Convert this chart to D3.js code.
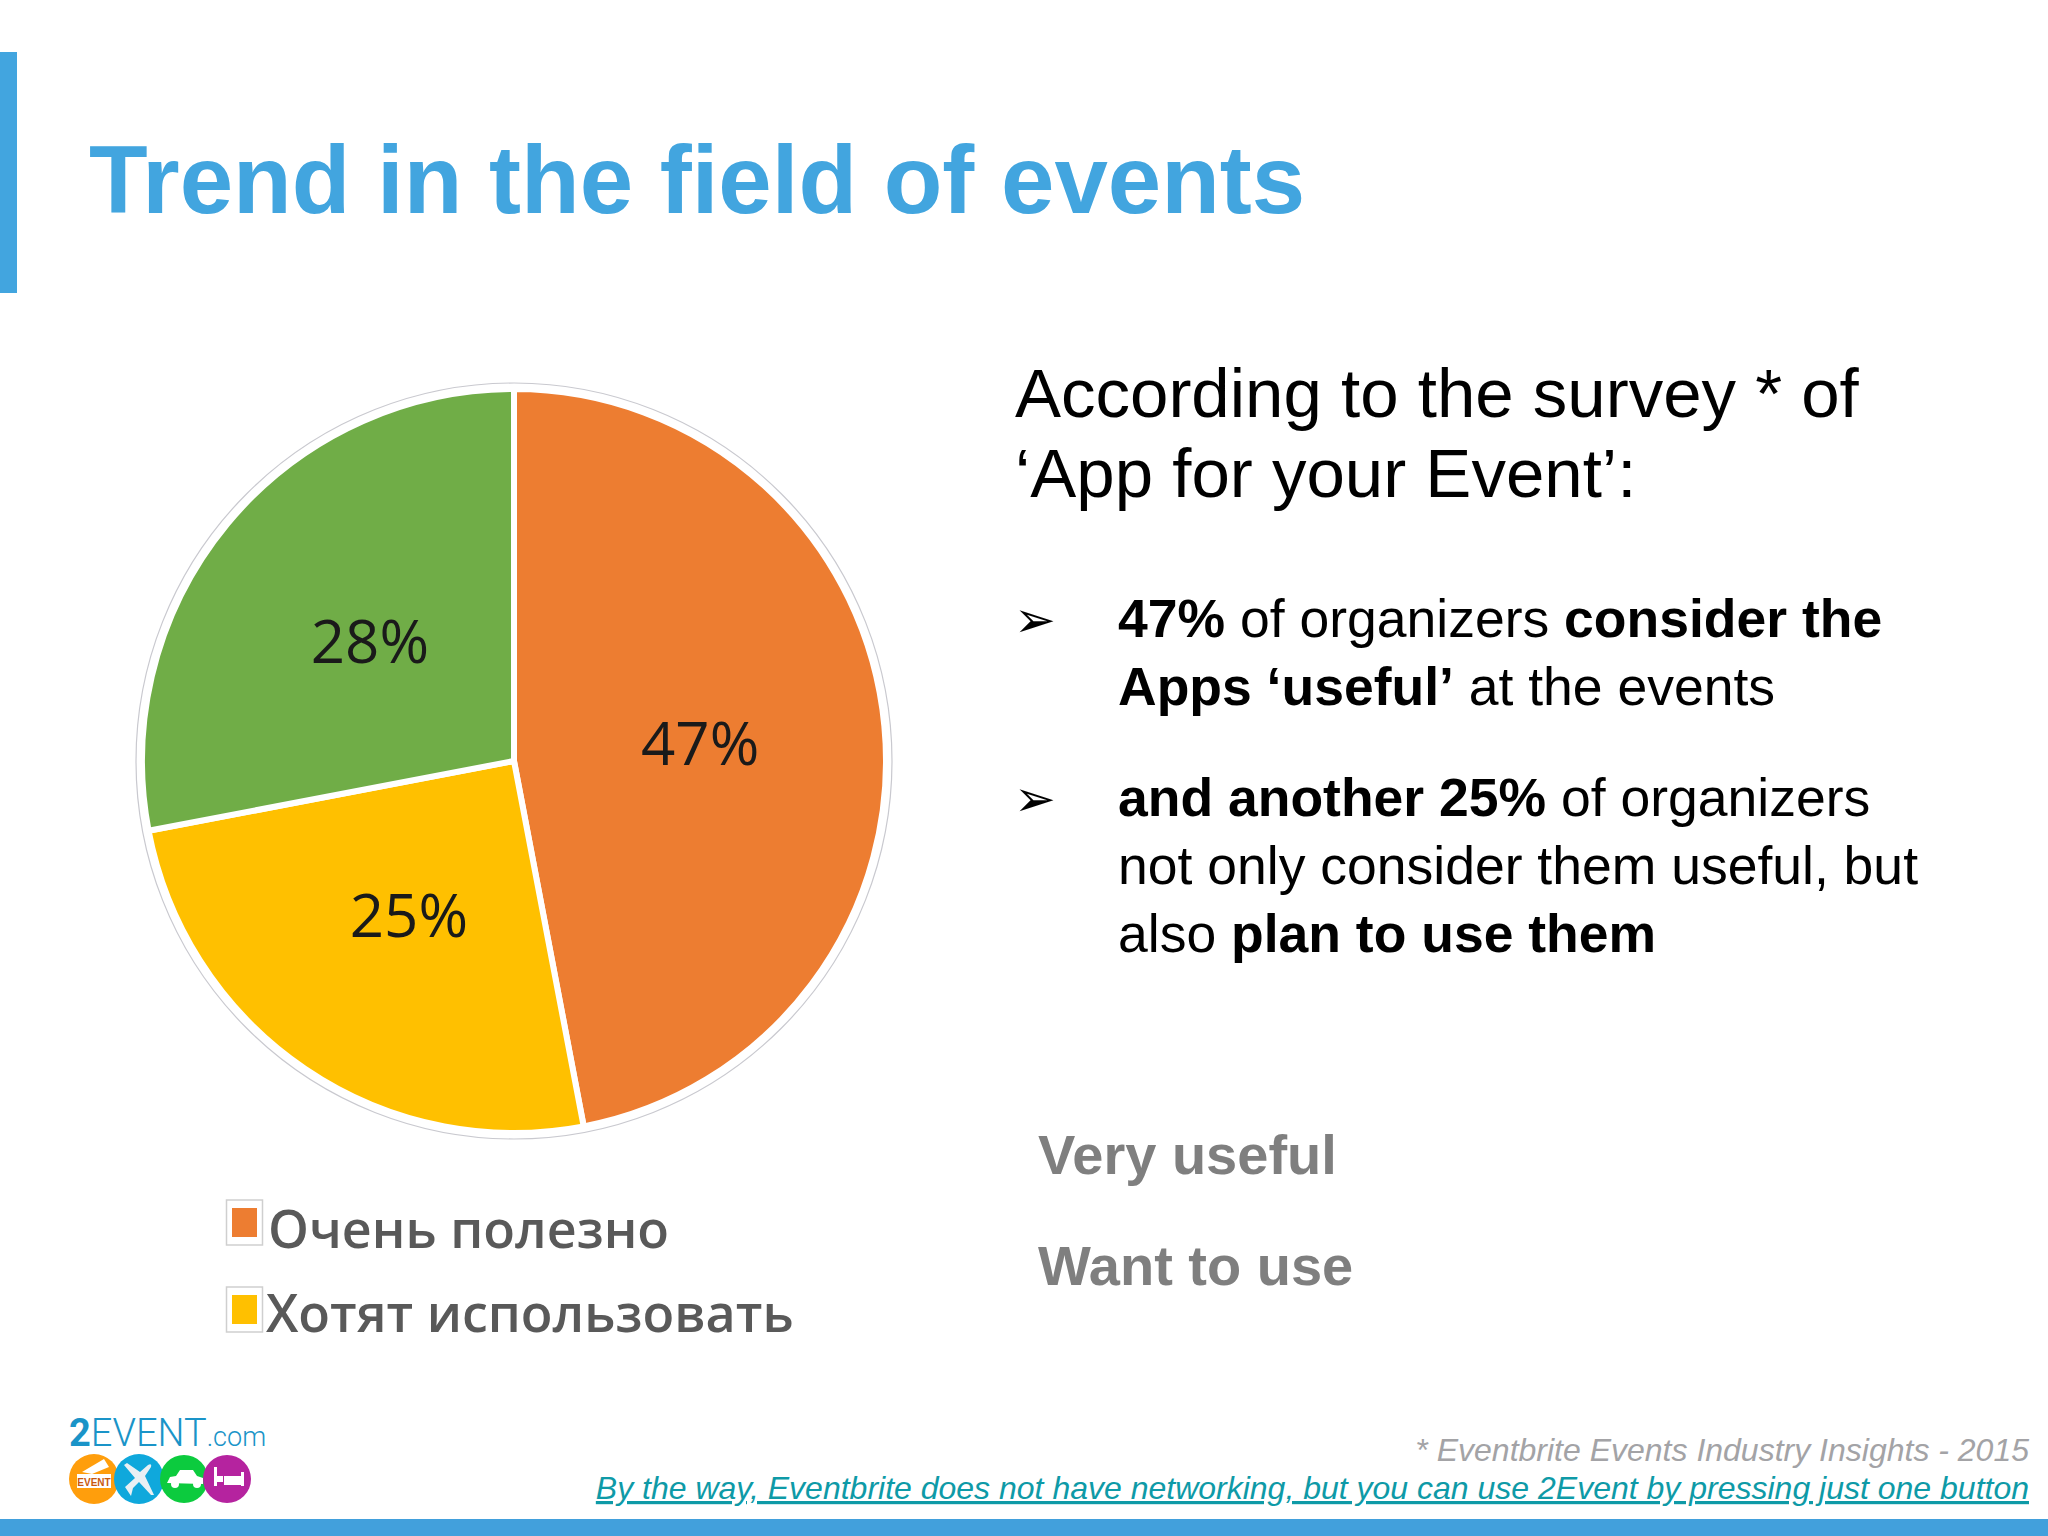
<!DOCTYPE html>
<html><head><meta charset="utf-8">
<script src="https://cdnjs.cloudflare.com/ajax/libs/d3/7.8.5/d3.min.js"></script>
<style>html,body{margin:0;padding:0;background:#fff}svg{display:block}text{font-family:"Liberation Sans",Arial,sans-serif}</style>
</head><body>
<svg id="c" width="2048" height="1536"></svg>
<script>
const categories = ["Очень полезно","Хотят использовать","Другое"];
const values = [47,25,28];
const sliceColors = ["#ed7d31","#ffc000","#70ad47"];
const legendColors = ["#ed7d31","#ffc000"];
const titleText = "Trend in the field of events";
const introLines = ["According to the survey * of","‘App for your Event’:"];
const bulletLines = [
 [[["47%",1],[" of organizers ",0],["consider the",1]], [["Apps ‘useful’",1],[" at the events",0]]],
 [[["and another 25%",1],[" of organizers",0]], [["not only consider them useful, but",0]], [["also ",0],["plan to use them",1]]]
];
const translations = ["Very useful","Want to use"];
const noteText = "* Eventbrite Events Industry Insights - 2015";
const linkText = "By the way, Eventbrite does not have networking, but you can use 2Event by pressing just one button";

const svg = d3.select("#c");
svg.append("rect").attr("x",0).attr("y",52).attr("width",17).attr("height",241).attr("fill","#42a5df");
svg.append("rect").attr("x",0).attr("y",1519).attr("width",2048).attr("height",17).attr("fill","#42a0dc");
svg.append("text").attr("x",89).attr("y",213).attr("font-size",96).attr("font-weight",700).attr("fill","#42a5df").text(titleText);

// pie
const cx=514, cy=761, R=372;
const pie = d3.pie().value(d=>d).sort(null);
const arc = d3.arc().innerRadius(0).outerRadius(R);
const labelArc = d3.arc().innerRadius(0).outerRadius(374);
const g = svg.append("g").attr("transform",`translate(${cx},${cy})`);
g.append("circle").attr("r",R+6).attr("fill","#fff").attr("stroke","#c9c9cf").attr("stroke-width",1.2);
const arcs = pie(values);
g.selectAll("path").data(arcs).join("path").attr("d",arc).attr("fill",(d,i)=>sliceColors[i]).attr("stroke","#fff").attr("stroke-width",6).attr("stroke-linejoin","miter");
g.selectAll("text.v").data(arcs).join("text").attr("class","v")
 .attr("x",d=>labelArc.centroid(d)[0]).attr("y",d=>labelArc.centroid(d)[1])
 .attr("dy","0.36em").attr("text-anchor","middle")
 .style("font-family","'Open Sans'").attr("font-size",60).attr("fill","#1a1a1a").text(d=>d.data+"%");

// legend
const ly=[1200,1287], ltx=[268,266], lby=[1248,1332];
legendColors.forEach((c,i)=>{
 svg.append("rect").attr("x",226.5).attr("y",ly[i]).attr("width",36).attr("height",45).attr("fill","#fff").attr("stroke","#cfcfcf").attr("stroke-width",1.5);
 svg.append("rect").attr("x",232).attr("y",ly[i]+8).attr("width",25).attr("height",29).attr("fill",c);
 svg.append("text").attr("x",ltx[i]).attr("y",lby[i]).style("font-family","'Open Sans'").attr("font-weight",600).attr("font-size",52).attr("fill","#595959").text(categories[i]);
});

// intro
introLines.forEach((t,i)=>svg.append("text").attr("x",1015).attr("y",417+i*80).attr("font-size",69).attr("fill","#000").text(t));
// bullets
let by=[637,816];
bulletLines.forEach((lines,b)=>{
 svg.append("text").attr("x",1014).attr("y",by[b]).style("font-family","'DejaVu Sans'").attr("font-size",50).attr("fill","#000").text("➢");
 lines.forEach((runs,l)=>{
  const t=svg.append("text").attr("x",1118).attr("y",by[b]+l*68).attr("font-size",53.5).attr("fill","#000").attr("xml:space","preserve").style("white-space","pre");
  runs.forEach(r=>t.append("tspan").attr("font-weight",r[1]?700:400).text(r[0]));
 });
});
translations.forEach((t,i)=>svg.append("text").attr("x",1038).attr("y",[1174,1285][i]).attr("font-size",56).attr("font-weight",700).attr("fill","#7f7f7f").text(t));
svg.append("text").attr("x",2029).attr("y",1461).attr("text-anchor","end").attr("font-size",32).attr("font-style","italic").attr("fill","#a3a3a6").text(noteText);
svg.append("text").attr("x",2029).attr("y",1499).attr("text-anchor","end").attr("font-size",32).attr("font-style","italic").attr("text-decoration","underline").attr("fill","#0e9aa7").text(linkText);

// logo
const logo=svg.append("g");
const lt=logo.append("text").attr("x",69).attr("y",1446).attr("font-size",38).attr("fill","#1a94c8").style("font-family","'Roboto'").attr("font-weight",300);
lt.append("tspan").attr("font-weight",700).attr("font-size",38).text("2");
lt.append("tspan").text("EVENT");
lt.append("tspan").attr("font-size",27).text(".com");
const circ=[[94,25,"#ff9e0c"],[139,25,"#0fa8dc"],[184,24,"#0ccb3e"],[227,24,"#b5239f"]];
circ.forEach(c=>logo.append("circle").attr("cx",c[0]).attr("cy",1479).attr("r",c[1]).attr("fill",c[2]));
// ticket
logo.append("rect").attr("x",77).attr("y",1474).attr("width",34).attr("height",14).attr("fill","#fff");
logo.append("path").attr("d","M82 1472 L104 1459 L109 1467 L92 1474 Z").attr("fill","#fff");
logo.append("text").attr("x",94).attr("y",1486).attr("text-anchor","middle").attr("font-size",10).attr("font-weight",700).attr("fill","#c8590f").text("EVENT");
// plane
logo.append("path").attr("d","M124 1465 L127 1463 L140 1472 L148 1465 Q152 1463 151 1467 L145 1476 L154 1495 L151 1495 L139 1482 L133 1488 L131 1496 L125 1487 L135 1478 Z").attr("fill","#e8f0f4");
// car
logo.append("path").attr("d","M167 1483 L170 1477 L176 1476 L180 1470 L193 1470 L197 1476 L203 1478 L203 1484 Z").attr("fill","#fff");
logo.append("circle").attr("cx",175).attr("cy",1484).attr("r",4).attr("fill","#fff");
logo.append("circle").attr("cx",197).attr("cy",1484).attr("r",4).attr("fill","#fff");
// bed
logo.append("rect").attr("x",214).attr("y",1467).attr("width",3).attr("height",19).attr("fill","#fff");
logo.append("rect").attr("x",241).attr("y",1472).attr("width",3).attr("height",14).attr("fill","#fff");
logo.append("rect").attr("x",217).attr("y",1476).attr("width",6).attr("height",6).attr("fill","#fff");
logo.append("rect").attr("x",224).attr("y",1476).attr("width",17).attr("height",9).attr("fill","#fff");
</script>
</body></html>
